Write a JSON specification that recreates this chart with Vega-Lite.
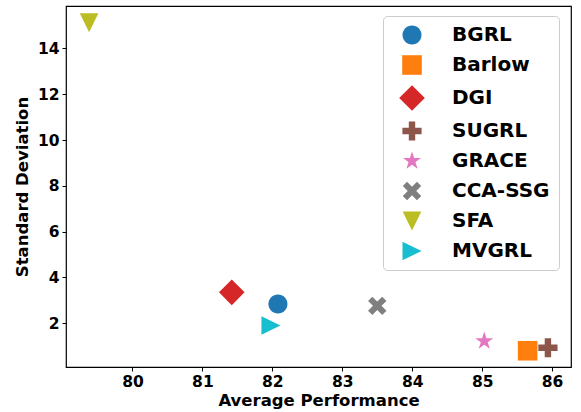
{
  "$schema": "https://vega.github.io/schema/vega-lite/v6.json",
  "width": 505,
  "height": 361,
  "autosize": {"type": "none"},
  "padding": {"left": 66, "top": 6, "right": 10, "bottom": 45},
  "config": {
    "font": "DejaVu Sans",
    "view": {"stroke": "black", "strokeWidth": 1.2},
    "axis": {
      "domain": false,
      "grid": false,
      "tickColor": "black",
      "tickSize": 4,
      "tickWidth": 1,
      "labelFont": "DejaVu Sans",
      "labelFontSize": 15.5,
      "labelFontWeight": "bold",
      "labelColor": "black",
      "titleFont": "DejaVu Sans",
      "titleFontSize": 16.5,
      "titleFontWeight": "bold",
      "titleColor": "black"
    }
  },
  "data": {
    "values": [
      {"method": "BGRL", "perf": 82.08, "std": 2.84},
      {"method": "Barlow", "perf": 85.65, "std": 0.8},
      {"method": "DGI", "perf": 81.42, "std": 3.35},
      {"method": "SUGRL", "perf": 85.94, "std": 0.93},
      {"method": "GRACE", "perf": 85.03, "std": 1.22},
      {"method": "CCA-SSG", "perf": 83.5, "std": 2.76},
      {"method": "SFA", "perf": 79.38, "std": 15.12},
      {"method": "MVGRL", "perf": 81.98, "std": 1.9}
    ]
  },
  "mark": {"type": "point", "filled": true, "opacity": 1, "size": 400, "strokeWidth": 0},
  "encoding": {
    "x": {
      "field": "perf",
      "type": "quantitative",
      "scale": {"domain": [79.05, 86.27], "nice": false, "zero": false},
      "axis": {"values": [80, 81, 82, 83, 84, 85, 86], "title": "Average Performance", "labelPadding": 3, "titlePadding": 3}
    },
    "y": {
      "field": "std",
      "type": "quantitative",
      "scale": {"domain": [0.09, 15.85], "nice": false, "zero": false},
      "axis": {"values": [2, 4, 6, 8, 10, 12, 14], "title": "Standard Deviation", "labelPadding": 3, "titlePadding": 7}
    },
    "color": {
      "field": "method",
      "type": "nominal",
      "scale": {
        "domain": ["BGRL", "Barlow", "DGI", "SUGRL", "GRACE", "CCA-SSG", "SFA", "MVGRL"],
        "range": ["#1f77b4", "#ff7f0e", "#d62728", "#8c564b", "#e377c2", "#7f7f7f", "#bcbd22", "#17becf"]
      },
      "legend": {
        "orient": "none",
        "legendX": 317,
        "legendY": 10,
        "title": null,
        "labelFont": "DejaVu Sans",
        "labelFontSize": 20,
        "labelFontWeight": "bold",
        "labelColor": "black",
        "symbolSize": 400,
        "symbolOffset": 10,
        "labelOffset": 30,
        "padding": 9,
        "rowPadding": 10,
        "strokeColor": "#cccccc",
        "fillColor": "white",
        "cornerRadius": 4,
        "symbolStrokeWidth": 0,
        "symbolOpacity": 1
      }
    },
    "shape": {
      "field": "method",
      "type": "nominal",
      "scale": {
        "domain": ["BGRL", "Barlow", "DGI", "SUGRL", "GRACE", "CCA-SSG", "SFA", "MVGRL"],
        "range": [
          "M0.95,0A0.95,0.95,0,1,1,-0.95,0A0.95,0.95,0,1,1,0.95,0Z",
          "M-0.98,-0.98H0.98V0.98H-0.98Z",
          "M0,-1.28L1.28,0L0,1.28L-1.28,0Z",
          "M-0.32,-0.96H0.32V-0.32H0.96V0.32H0.32V0.96H-0.32V0.32H-0.96V-0.32H-0.32Z",
          "M0,-0.95L0.213,-0.294L0.903,-0.294L0.345,0.112L0.559,0.769L0,0.363L-0.559,0.769L-0.345,0.112L-0.903,-0.294L-0.213,-0.294Z",
          "M0.495,-0.919L0.919,-0.495L0.424,0L0.919,0.495L0.495,0.919L0,0.424L-0.495,0.919L-0.919,0.495L-0.424,0L-0.919,-0.495L-0.495,-0.919L0,-0.424Z",
          "M-0.93,-0.95L0.93,-0.95L0,0.95Z",
          "M-0.95,-0.93L0.95,0L-0.95,0.93Z"
        ]
      }
    }
  }
}
